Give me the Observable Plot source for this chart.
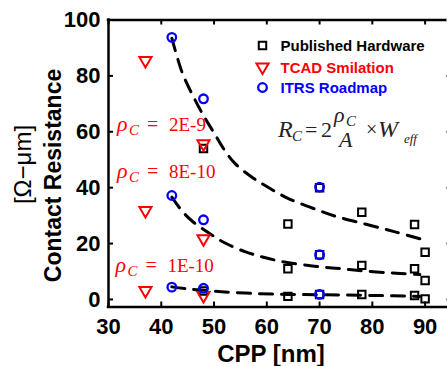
<!DOCTYPE html>
<html>
<head>
<meta charset="utf-8">
<script src="https://cdn.jsdelivr.net/npm/d3@7"></script>
<script src="https://cdn.jsdelivr.net/npm/@observablehq/plot@0.6"></script>
<style>
  html, body { margin: 0; padding: 0; background: white; overflow: hidden; }
</style>
</head>
<body>
<div id="chart"></div>
<script>
// ---- data ----
const xTicks = [30, 40, 50, 60, 70, 80, 90];
const yTicks = [0, 20, 40, 60, 80, 100];

// Published Hardware (black squares)
const hwX = [48, 48, 64, 64, 64, 70, 70, 70, 78, 78, 78, 88, 88, 88, 90, 90, 90];
const hwY = [54, 3, 27, 11, 1.1, 40, 16, 1.8, 31.2, 12.2, 1.8, 26.8, 11, 1.4, 16.9, 6.8, 0.2];

// TCAD Smilation (red down triangles)
const tcadX = [37, 37, 37, 48, 48, 48];
const tcadY = [85.5, 31.8, 3.2, 55.7, 21.7, 1.4];

// ITRS Roadmap (blue circles)
const itrsX = [42, 42, 42, 48, 48, 48, 70, 70, 70];
const itrsY = [93.8, 37.2, 4.4, 71.8, 28.5, 4.0, 40.2, 16, 1.8];

// dashed model curves (read along the drawn dashes)
const fit2e9X = [42, 44, 46, 48, 50, 52, 54, 57, 60, 64, 69.5, 73, 79, 84.5, 89];
const fit2e9Y = [93.5, 81, 72.9, 65.8, 59.6, 53.4, 48.6, 44, 40.4, 36.2, 32.1, 29.8, 26.8, 24.1, 21.7];
const fit8e10X = [42, 44, 46, 49, 52, 56, 59, 63, 69, 74, 79, 84.5, 89];
const fit8e10Y = [36.6, 31.5, 27.8, 23.8, 20.3, 17, 15.3, 13.5, 11.9, 11, 10.1, 9.4, 8.9];
const fit1e10X = [42, 45, 48, 52, 58, 64, 70, 78, 84, 89];
const fit1e10Y = [4.5, 3.8, 3.3, 2.7, 2.1, 1.8, 1.7, 1.5, 1.3, 1.1];

// annotations
const rhoValues = ["2E-9", "8E-10", "1E-10"];
const rhoAtX = [31.7, 31.7, 31.4];
const rhoAtY = [60.1, 43.2, 9.8];

const legendLabels = ["Published Hardware", "TCAD Smilation", "ITRS Roadmap"];
const xLabel = "CPP [nm]";
const yLabelLines = ["[Ω−μm]", "Contact Resistance"];

// ---- chart ----
const BLACK = "#000000", RED = "#ff0000", BLUE = "#0000ff";
const yMin = -2.7, yMax = 100, xMin = 30, xMax = 95;
const pxPerX = (451 - 108) / (xMax - xMin);
const pxPerY = (306.5 - 19.5) / (yMax - yMin);
const tickLen = 5;

const triangleDown = {
  draw(context, size) {
    const s = Math.sqrt(size / (Math.sqrt(3) / 4));
    const h = s * Math.sqrt(3) / 2;
    context.moveTo(-s / 2, -h / 3);
    context.lineTo(s / 2, -h / 3);
    context.lineTo(0, 2 * h / 3);
    context.closePath();
  }
};

const hw = hwX.map((x, i) => ({x, y: hwY[i]}));
const tcad = tcadX.map((x, i) => ({x, y: tcadY[i]}));
const itrs = itrsX.map((x, i) => ({x, y: itrsY[i]}));
const fits = [
  fit2e9X.map((x, i) => ({x, y: fit2e9Y[i]})),
  fit8e10X.map((x, i) => ({x, y: fit8e10Y[i]})),
  fit1e10X.map((x, i) => ({x, y: fit1e10Y[i]}))
];

const legendStyles = [
  {symbol: "square", stroke: BLACK, r: 4.2, sw: 2},
  {symbol: triangleDown, stroke: RED, r: 4.5, sw: 2},
  {symbol: "circle", stroke: BLUE, r: 4.3, sw: 2.3}
];
const legendRowDy = [25.5, 47, 67.5];

const plot = Plot.plot({
  width: 447,
  height: 366,
  marginLeft: 108,
  marginRight: 0,
  marginTop: 19.5,
  marginBottom: 59.5,
  style: {fontFamily: "'Liberation Sans', Arial, sans-serif", background: "white", color: "black"},
  x: {domain: [xMin, xMax], range: [108, 451]},
  y: {domain: [yMin, yMax]},
  marks: [
    // fitted curves
    ...fits.map(f => Plot.line(f, {x: "x", y: "y", curve: "catmull-rom", stroke: BLACK, strokeWidth: 3, strokeDasharray: "13,9"})),
    // data
    Plot.dot(hw, {x: "x", y: "y", symbol: "square", r: 4.2, stroke: BLACK, strokeWidth: 2, fill: "none"}),
    Plot.dot(tcad, {x: "x", y: "y", symbol: triangleDown, r: 4.5, stroke: RED, strokeWidth: 2, fill: "none"}),
    Plot.dot(itrs, {x: "x", y: "y", symbol: "circle", r: 4.3, stroke: BLUE, strokeWidth: 2.3, fill: "none"}),
    // box frame
    Plot.ruleY([yMin, yMax], {x1: xMin, x2: xMax, stroke: BLACK, strokeWidth: 2.5, strokeLinecap: "square"}),
    Plot.ruleX([xMin, xMax], {y1: yMin, y2: yMax, stroke: BLACK, strokeWidth: 2.5, strokeLinecap: "square"}),
    // inward ticks
    Plot.ruleX(xTicks, {y1: yMin, y2: yMin + tickLen / pxPerY, stroke: BLACK, strokeWidth: 2}),
    Plot.ruleX(xTicks, {y1: yMax, y2: yMax - tickLen / pxPerY, stroke: BLACK, strokeWidth: 2}),
    Plot.ruleY(yTicks, {x1: xMin, x2: xMin + tickLen / pxPerX, stroke: BLACK, strokeWidth: 2}),
    Plot.ruleY(yTicks, {x1: xMax, x2: xMax - tickLen / pxPerX, stroke: "#888", strokeWidth: 2}),
    // tick labels
    Plot.axisX({ticks: xTicks, tickSize: 0, tickPadding: 11, fontSize: 22, fontWeight: "bold", label: null, tickFormat: d => String(d)}),
    Plot.axisY({ticks: yTicks, tickSize: 0, tickPadding: 8, fontSize: 22, fontWeight: "bold", label: null, tickFormat: d => String(d)}),
    // axis titles
    Plot.text([xLabel], {frameAnchor: "bottom", textAnchor: "middle", lineAnchor: "middle", dx: -7, dy: 47, fontSize: 24, fontWeight: "bold"}),
    Plot.text([yLabelLines[0]], {frameAnchor: "left", textAnchor: "middle", lineAnchor: "middle", rotate: -90, dx: -85, dy: 1, fontSize: 24}),
    Plot.text([yLabelLines[1]], {frameAnchor: "left", textAnchor: "middle", lineAnchor: "middle", rotate: -90, dx: -55, dy: 12, fontSize: 23, fontWeight: "bold"}),
    // legend
    ...legendLabels.map((lab, i) => Plot.dot([lab], {frameAnchor: "top-left", dx: 154, dy: legendRowDy[i], symbol: legendStyles[i].symbol, r: legendStyles[i].r, stroke: legendStyles[i].stroke, strokeWidth: legendStyles[i].sw, fill: "none"})),
    ...legendLabels.map((lab, i) => Plot.text([lab], {frameAnchor: "top-left", textAnchor: "start", lineAnchor: "middle", dx: 172, dy: legendRowDy[i] + 1, fontSize: 15, fontWeight: "bold", fill: legendStyles[i].stroke}))
  ]
});

document.getElementById("chart").appendChild(plot);

// ---- rich-text annotations (subscripts) placed through Plot's scales ----
const sx = plot.scale("x"), sy = plot.scale("y");
const X = v => sx.apply(v), Y = v => sy.apply(v);
const svg = d3.select(plot);
const serif = "'Liberation Serif', 'Times New Roman', serif";

const ann = svg.append("g").attr("font-family", serif).attr("fill", RED).attr("text-anchor", "start");
rhoValues.forEach((val, i) => {
  const x0 = X(rhoAtX[i]), y0 = Y(rhoAtY[i]);
  const t = ann.append("text").attr("x", x0).attr("y", y0);
  t.append("tspan").attr("font-style", "italic").attr("font-size", 22).text("ρ");
  t.append("tspan").attr("x", x0 + 12).attr("y", y0 + 4).attr("font-style", "italic").attr("font-size", 15).text("C");
  t.append("tspan").attr("x", x0 + 30).attr("y", y0).attr("font-size", 20).text("=");
  t.append("tspan").attr("x", x0 + 52).attr("y", y0).attr("font-size", 19).text(val);
});

// formula R_C = 2 (ρ_C / A) × W_eff
const fx = X(62.2), fy = Y(58);
const f = svg.append("g").attr("font-family", serif).attr("fill", "#222").attr("text-anchor", "start");
const piece = (txt, dx, dy, size, italic) =>
  f.append("text").attr("x", fx + dx).attr("y", fy + dy).attr("font-size", size)
   .attr("font-style", italic ? "italic" : "normal").text(txt);
piece("R", 0, 0, 24, true);
piece("C", 14, 4, 15, true);
piece("=", 27, 0, 22, false);
piece("2", 43, 0, 22, false);
piece("ρ", 56, -15, 22, true);
piece("C", 68, -11, 15, true);
piece("A", 61, 10, 22, true);
piece("×", 88, -1, 20, false);
piece("W", 100, 0, 24, true);
piece("eff", 126, 6, 13, true);
</script>
</body>
</html>
